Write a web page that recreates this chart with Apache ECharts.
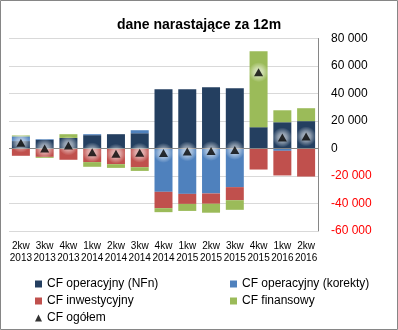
<!DOCTYPE html>
<html><head><meta charset="utf-8">
<script src="https://cdn.jsdelivr.net/npm/echarts@6/dist/echarts.min.js"></script>
<style>html,body{margin:0;padding:0;background:#fff}#c{width:398px;height:330px}</style>
</head><body><div id="c"></div>
<script>
const categories = ['2kw\n2013','3kw\n2013','4kw\n2013','1kw\n2014','2kw\n2014','3kw\n2014','4kw\n2014','1kw\n2015','2kw\n2015','3kw\n2015','4kw\n2015','1kw\n2016','2kw\n2016'];
const cfNFn = [5400, 6300, 7700, 9700, 10400, 11100, 43100, 43100, 44600, 43900, 15500, 19100, 19900];
const cfKorekty = [3400, 500, 0, 700, 0, 2200, -31500, -33000, -32700, -28100, 0, -1700, 0];
const cfInwest = [-5300, -6100, -8200, -9900, -11400, -13600, -11900, -7300, -7500, -9500, -15300, -17900, -20400];
const cfFinans = [700, -700, 2700, -3400, -2700, -2700, -2900, -5100, -6500, -7000, 55200, 8700, 9400];
const cfOgolem = [4200, 0, 2200, -2800, -3800, -3100, -3200, -2100, -1800, -1100, 55500, 8000, 8800];
const yTicks = {min: -60000, max: 80000, interval: 20000};

const FONT = 'Liberation Sans';
const fmt = v => (v < 0 ? '-' : '') + String(Math.abs(v)).replace(/\B(?=(\d{3})+(?!\d))/g, ' ');
const chart = echarts.init(document.getElementById('c'), null, {renderer: 'canvas'});
const barCommon = {type: 'bar', stack: 'cf', barWidth: 18};
const legendCommon = {orient: 'vertical', top: 278, height: 60, padding: 0, itemWidth: 7, itemHeight: 7, itemGap: 5,
  textStyle: {fontFamily: FONT, fontSize: 12, color: '#000'}};
chart.setOption({
  animation: false,
  textStyle: {fontFamily: FONT},
  title: {text: 'dane narastające za 12m', left: 'center', top: 13,
    textStyle: {fontFamily: FONT, fontSize: 14, fontWeight: 'bold', color: '#000'}},
  grid: {left: 9, right: 80, top: 38.5, bottom: 99, containLabel: false},
  legend: [
    Object.assign({}, legendCommon, {left: 35,
     data: [{name: 'CF operacyjny (NFn)', icon: 'rect'}, {name: 'CF inwestycyjny', icon: 'rect'}, {name: 'CF ogółem', icon: 'triangle'}]}),
    Object.assign({}, legendCommon, {left: 230,
     data: [{name: 'CF operacyjny (korekty)', icon: 'rect'}, {name: 'CF finansowy', icon: 'rect'}]})
  ],
  xAxis: {type: 'category', data: categories,
    axisLine: {show: false, onZero: false}, axisTick: {show: false},
    axisLabel: {fontFamily: FONT, fontSize: 10, color: '#000', margin: 9, lineHeight: 12, interval: 0}},
  yAxis: {type: 'value', position: 'right', min: yTicks.min, max: yTicks.max, interval: yTicks.interval,
    axisLine: {show: true, lineStyle: {color: '#868686', width: 1}}, axisTick: {show: false},
    splitLine: {show: true, lineStyle: {color: '#D9D9D9', width: 1}},
    axisLabel: {fontFamily: FONT, fontSize: 12, margin: 13, formatter: fmt,
      color: v => (Number(v) < 0 ? '#FF0000' : '#000')}},
  series: [
    Object.assign({}, barCommon, {name: 'CF operacyjny (NFn)', data: cfNFn, itemStyle: {color: '#243F60'},
      markLine: {silent: true, symbol: 'none', label: {show: false}, animation: false,
        lineStyle: {color: '#868686', type: 'solid', width: 1}, data: [{yAxis: 0}]}}),
    Object.assign({}, barCommon, {name: 'CF operacyjny (korekty)', data: cfKorekty, itemStyle: {color: '#4F81BD'}}),
    Object.assign({}, barCommon, {name: 'CF inwestycyjny', data: cfInwest, itemStyle: {color: '#C0504D'}}),
    Object.assign({}, barCommon, {name: 'CF finansowy', data: cfFinans, itemStyle: {color: '#9BBB59'}}),
    {type: 'scatter', name: 'glow', data: cfOgolem, symbol: 'circle', symbolSize: 20, z: 9, silent: true,
     itemStyle: {color: {type: 'radial', x: 0.5, y: 0.5, r: 0.5, colorStops: [
       {offset: 0, color: 'rgba(255,255,255,0.85)'}, {offset: 0.45, color: 'rgba(255,255,255,0.6)'},
       {offset: 1, color: 'rgba(255,255,255,0)'}]}}},
    {type: 'scatter', name: 'CF ogółem', data: cfOgolem, symbol: 'triangle', symbolSize: [9, 8], z: 10,
     itemStyle: {color: '#000'}}
  ],
  graphic: [{type: 'rect', silent: true, shape: {x: 0.5, y: 0.5, width: 397, height: 329},
    style: {fill: null, stroke: '#868686', lineWidth: 1}}]
});
</script></body></html>
